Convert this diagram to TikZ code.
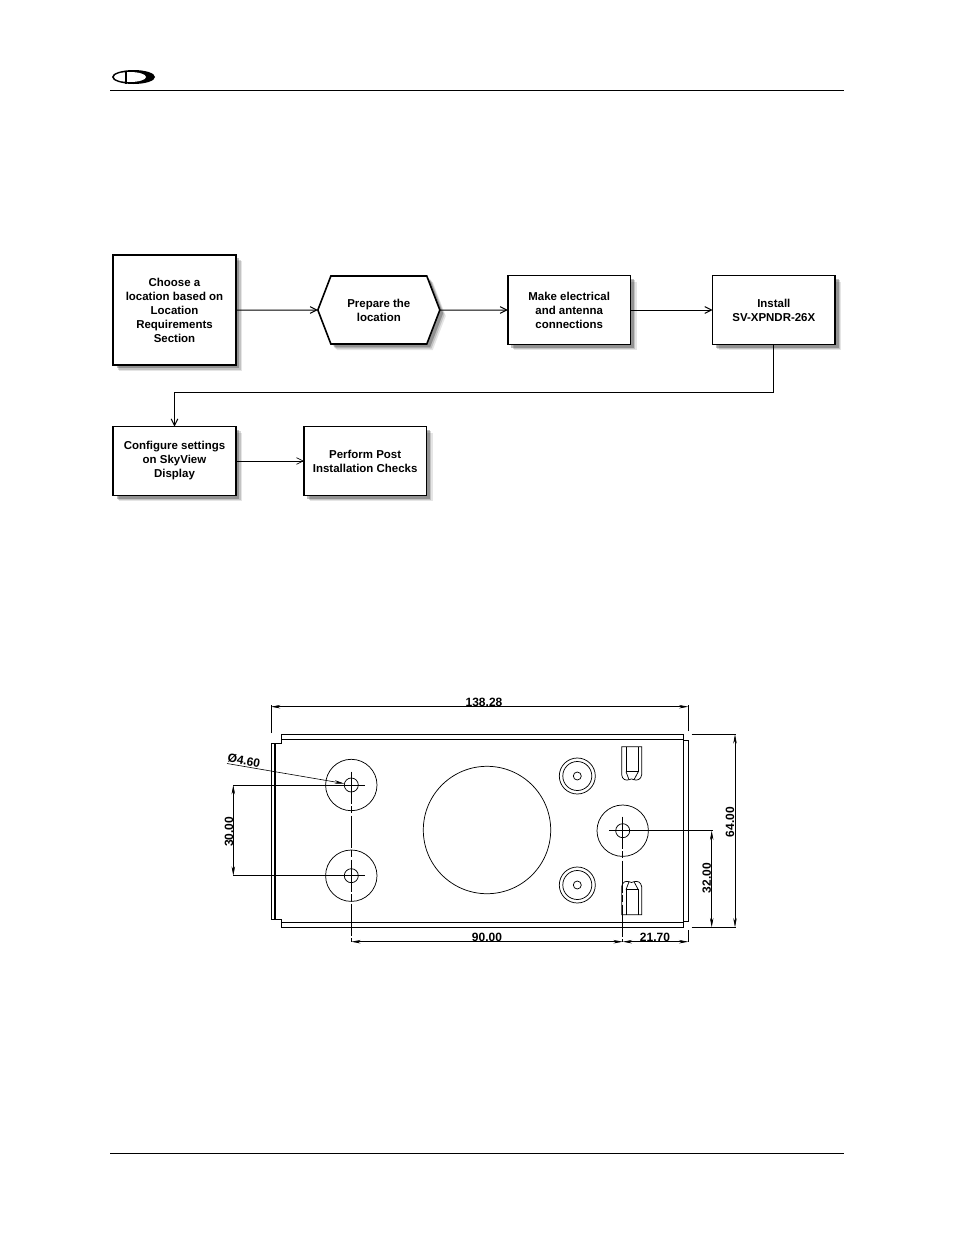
\documentclass[tikz,border=0pt]{standalone}
\usepackage{fontspec}
\setmainfont{Liberation Sans}
\usetikzlibrary{positioning}
\usetikzlibrary{shapes.symbols}
\usetikzlibrary{shadows}
\usetikzlibrary{arrows.meta}

\begin{document}
\begin{tikzpicture}[
            x = 0.75pt,
            y = -0.75pt,
            softshadow/.style = {
                drop shadow = {shadow xshift = 4.5pt, shadow yshift = -4.5pt, fill = black, opacity = 0.1},
                drop shadow = {shadow xshift = 3.5pt, shadow yshift = -3.5pt, fill = black, opacity = 0.15},
                drop shadow = {shadow xshift = 2.5pt, shadow yshift = -2.5pt, fill = black, opacity = 0.25}
            },
            stepbox/.style = {
                draw,
                fill = white,
                line width = 1.2pt,
                align = center,
                font = \fontsize{8.6}{10.5}\selectfont\bfseries,
                inner sep = 0pt,
                outer sep = 0pt,
                minimum width = 92pt,
                minimum height = #1,
                softshadow
            },
            stepbox/.default = 51.5pt,
            prephex/.style = {
                stepbox = 51pt,
                signal,
                signal to = east and west,
                signal pointer angle = 138,
                minimum width = 91.5pt
            },
            flow/.style = {
                line width = 0.75pt,
                -{Straight Barb[length = 5pt, width = 5pt]}
            },
            part/.style = {line width = 0.55pt},
            dimline/.style = {
                line width = 0.45pt,
                {Stealth[length = 7pt, width = 2.6pt]}-{Stealth[length = 7pt, width = 2.6pt]}
            },
            extline/.style = {line width = 0.45pt},
            centreline/.style = {line width = 0.45pt, dash pattern = on 24pt off 2pt on 5pt off 2pt},
            dimtext/.style = {font = \fontsize{9}{9}\selectfont\bfseries, inner sep = 0pt}
            ]
            \useasboundingbox (0,0) rectangle (954,1235);

            % page header and footer
            \draw[line width = 0.75pt] (110,90.7) -- (844,90.7);
            \draw[line width = 0.75pt] (110,1153) -- (844,1153);
            \fill (133.5,77) ellipse [x radius = 21.5, y radius = 7];
            \fill[white] (130,77) ellipse [x radius = 16, y radius = 5];
            \fill (125,71) rectangle (127,84);

            % flow chart
            \node[stepbox = 82.5pt] (choose) at (174.5,310) {Choose a\\location based on\\Location\\Requirements\\Section};
            \node[prephex, right = 61.5pt of choose] (prepare) {Prepare the\\location};
            \node[stepbox, right = 51pt of prepare] (connect) {Make electrical\\and antenna\\connections};
            \node[stepbox, right = 61.5pt of connect] (install) {Install\\SV-XPNDR-26X};
            \node[stepbox] (configure) at (174.5,461) {Configure settings\\on SkyView\\Display};
            \node[stepbox, right = 51pt of configure] (checks) {Perform Post\\Installation Checks};

            \draw[flow] (choose) -- (prepare);
            \draw[flow] (prepare) -- (connect);
            \draw[flow] (connect) -- (install);
            \draw[flow] (install.south) |- (174.5,392) -- (configure.north);
            \draw[flow, line width = 0.5pt] (configure) -- (checks);

            % transponder outline
            \draw[part, line width = 0.8pt] (281.3,743) -- (281.3,739.3) -- (683.3,739.3);
            \draw[part, line width = 0.8pt] (281.3,919) -- (281.3,922.3) -- (683.3,922.3);
            \draw[part] (271,743) -- (281.3,743) -- (281.3,734.3) -- (683.3,734.3) -- (683.3,927.3) -- (281.3,927.3) -- (281.3,919) -- (271,919) -- cycle;
            \draw[part, line width = 0.8pt] (275,743) -- (275,919);
            \draw[part] (683.3,740) -- (688.3,740) -- (688.3,921) -- (683.3,921);

            % holes
            \coordinate (holeA) at (351.3,785);
            \coordinate (holeB) at (351.3,875.7);
            \coordinate (holeC) at (622.7,830.7);
            \foreach \h in {holeA,holeB,holeC} {
                \draw[part] (\h) circle [radius = 25.7];
                \draw[part] (\h) circle [radius = 7];
            }
            \draw[part] (487,830) circle [radius = 63.7];

            % connectors and slots
            \foreach \c in {776,885} {
                \draw[part] (577.3,\c) circle [radius = 18];
                \draw[part] (577.3,\c) circle [radius = 14.5];
                \draw[part] (577.3,\c) circle [radius = 4];
            }
            \foreach \s/\f in {746.7/1,914.7/-1} {
                \begin{scope}[shift = {(0,\s)}, yscale = \f]
                    \draw[part] (621.7,0) -- (641.7,0) -- (641.7,28) .. controls (641,33) and (637,34) .. (634,33) .. controls (632,32) and (631,32) .. (629,33) .. controls (626,34) and (622,33) .. (621.7,28) -- cycle;
                    \draw[part] (626,0) -- (626,25) -- (638.3,25) -- (638.3,0);
                    \draw[part] (626,25) -- (629,33);
                    \draw[part] (638.3,25) -- (634,33);
                \end{scope}
            }

            % centre lines
            \draw[centreline] (351.3,771.7) -- (351.3,942);
            \draw[extline] (338,875.7) -- (365,875.7);
            \draw[extline] (233,785) -- (365,785);
            \draw[extline] (233,875.7) -- (338,875.7);
            \draw[centreline] (622.7,816.7) -- (622.7,942);
            \draw[extline] (609,830.7) -- (713,830.7);

            % dimensions
            \draw[extline] (271,733) -- (271,705);
            \draw[extline] (688.3,731) -- (688.3,705);
            \draw[dimline] (271,706.7) -- (688.3,706.7);
            \node[dimtext] at (484,702) {138.28};

            \draw[extline] (691.7,734.3) -- (736,734.3);
            \draw[extline] (691.7,927.3) -- (736,927.3);
            \draw[dimline] (735,734.3) -- (735,927.3);
            \node[dimtext, rotate = 90] at (730,822) {64.00};

            \draw[dimline] (711.7,830.7) -- (711.7,927.3);
            \node[dimtext, rotate = 90] at (706.7,878) {32.00};

            \draw[dimline] (233.3,785) -- (233.3,875.7);
            \node[dimtext, rotate = 90] at (229,831.7) {30.00};

            \draw[dimline] (351.3,941.7) -- (622.7,941.7);
            \node[dimtext] at (487,937) {90.00};
            \draw[dimline] (622.7,941.7) -- (688.3,941.7);
            \node[dimtext] at (655,937) {21.70};
            \draw[extline] (688.3,930) -- (688.3,942);

            \draw[extline, -{Stealth[length = 7pt, width = 2.6pt]}] (227,763.5) -- (344,783.5);
            \node[dimtext, rotate = -11] at (244,760.5) {Ø4.60};
        \end{tikzpicture}
\end{document}
